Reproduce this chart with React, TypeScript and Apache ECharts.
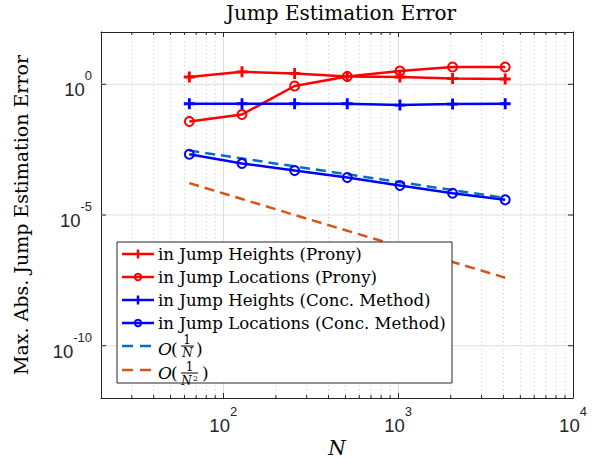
import React, { useEffect, useRef } from "react";
import * as echarts from "echarts";

const nValues = [64, 128, 256, 512, 1024, 2048, 4096];
const pronyHeights = [1.9, 3.0, 2.6, 2.0, 1.9, 1.65, 1.6];
const pronyLocations = [0.038, 0.07, 0.86, 2.0, 3.2, 4.6, 4.6];
const concHeights = [0.18, 0.18, 0.18, 0.18, 0.16, 0.175, 0.18];
const concLocations = [2.1e-3, 9.4e-4, 5.0e-4, 2.7e-4, 1.35e-4, 6.8e-5, 3.8e-5];
const orderN = [2.9e-3, 1.45e-3, 7.25e-4, 3.6e-4, 1.8e-4, 9.0e-5, 4.5e-5];
const orderN2 = [1.66e-4, 4.1e-5, 1.0e-5, 2.5e-6, 6.3e-7, 1.6e-7, 4.0e-8];
const minorXTicks = [30, 40, 50, 60, 70, 80, 90, 200, 300, 400, 500, 600, 700, 800, 900, 2000, 3000, 4000, 5000, 6000, 7000, 8000, 9000];
const majorYTicks = [1e-10, 1e-5, 1];
const xRange = [20, 10000];
const yRange = [1e-12, 1e2];

const seriesNames = [
  "in Jump Heights (Prony)",
  "in Jump Locations (Prony)",
  "in Jump Heights (Conc. Method)",
  "in Jump Locations (Conc. Method)",
];
const titleText = "Jump Estimation Error";
const yName = "Max. Abs. Jump Estimation Error";
const xName = "N";

const SERIF = "'DejaVu Serif', serif";
const SANS = "'Liberation Sans', Arial, sans-serif";
const AX = "#262626";
const GRID = "#dedede";
const RED = "#ff0000";
const BLUE = "#0000ff";
const C1 = "#0072bd";
const C2 = "#d95319";
const PLUS = "path://M3.7,0H6.3V3.7H10V6.3H6.3V10H3.7V6.3H0V3.7H3.7Z";
const TOPZ = 100;

function isMajorY(e: number) {
  return majorYTicks.some((t) => Math.abs(Math.log10(t) - e) < 1e-6);
}

function pow10LabelX(v: number) {
  const e = Math.log10(v);
  const r = Math.round(e);
  if (Math.abs(e - r) > 1e-6) return "";
  return `{b|10}{s|${r}}`;
}

function pow10LabelY(v: number) {
  const e = Math.log10(v);
  const r = Math.round(e);
  if (Math.abs(e - r) > 1e-6 || !isMajorY(r)) return "";
  return `{b|10}{s|${r}}`;
}

const richLabel = {
  b: { fontFamily: SANS, fontSize: 18.5, color: AX, lineHeight: 30, verticalAlign: "bottom" },
  s: { fontFamily: SANS, fontSize: 13, color: AX, lineHeight: 13, verticalAlign: "top" },
};

function mkLine(name: string, vals: number[], color: string, kind: "plus" | "circle") {
  return {
    name,
    type: "line",
    data: nValues.map((n, i) => [n, vals[i]]),
    symbol: kind === "plus" ? PLUS : "circle",
    symbolSize: kind === "plus" ? 11 : 9,
    symbolKeepAspect: true,
    showAllSymbol: true,
    lineStyle: { color, width: 2.5 },
    itemStyle:
      kind === "plus"
        ? { color }
        : { color: "rgba(0,0,0,0)", borderColor: color, borderWidth: 2 },
    emphasis: { disabled: true },
    z: 3,
  };
}

function mkDash(name: string, vals: number[], color: string) {
  return {
    name,
    type: "line",
    data: nValues.map((n, i) => [n, vals[i]]),
    symbol: "none",
    lineStyle: { color, width: 2.5, type: [10, 6] },
    emphasis: { disabled: true },
    z: 3,
  };
}

function buildLegend() {
  const left = 117;
  const top = 242;
  const w = 335;
  const h = 141;
  const rows = [254, 277, 300, 323, 346, 370];
  const x1 = 122;
  const x2 = 154;
  const mx = 138;
  const tx = 158;
  const font = `16.6px ${SERIF}`;
  const els: any[] = [
    {
      type: "rect",
      shape: { x: left, y: top, width: w, height: h },
      style: { fill: "#fff", stroke: AX, lineWidth: 1 },
    },
  ];
  const kinds: Array<[string, string]> = [
    [RED, "plus"],
    [RED, "circle"],
    [BLUE, "plus"],
    [BLUE, "circle"],
  ];
  kinds.forEach(([c, k], i) => {
    const ry = rows[i];
    els.push({ type: "line", shape: { x1, y1: ry, x2, y2: ry }, style: { stroke: c, lineWidth: 2.5 } });
    if (k === "plus") {
      els.push({ type: "line", shape: { x1: mx, y1: ry - 4.5, x2: mx, y2: ry + 4.5 }, style: { stroke: c, lineWidth: 2.5 } });
    } else {
      els.push({ type: "circle", shape: { cx: mx, cy: ry, r: 3.2 }, style: { fill: "none", stroke: c, lineWidth: 2 } });
    }
    els.push({
      type: "text",
      x: tx,
      y: ry,
      style: { text: seriesNames[i], font, fill: "#000", textAlign: "left", textVerticalAlign: "middle", align: "left", verticalAlign: "middle" },
    });
  });
  const dashes: string[] = [C1, C2];
  dashes.forEach((c, j) => {
    const ry = rows[4 + j];
    els.push({ type: "line", shape: { x1, y1: ry, x2, y2: ry }, style: { stroke: c, lineWidth: 2.5, lineDash: [11, 7] } });
  });
  const mid = (t: string, x: number, y: number, f: string, align = "left") => ({
    type: "text",
    x,
    y,
    style: { text: t, font: f, fill: "#000", textAlign: align, textVerticalAlign: "middle", align, verticalAlign: "middle" },
  });
  {
    const ry = rows[4];
    els.push(mid("O", tx, ry + 3, `italic 17px ${SERIF}`));
    els.push(mid("(", 171, ry + 3, `17px ${SERIF}`));
    els.push(mid("1", 187, ry - 6.5, `12px ${SERIF}`, "center"));
    els.push({ type: "line", shape: { x1: 181, y1: ry, x2: 194, y2: ry }, style: { stroke: "#000", lineWidth: 1 } });
    els.push(mid("N", 187.5, ry + 6.5, `italic 12px ${SERIF}`, "center"));
    els.push(mid(")", 196, ry + 3, `17px ${SERIF}`));
  }
  {
    const ry = rows[5];
    els.push(mid("O", tx, ry + 3, `italic 17px ${SERIF}`));
    els.push(mid("(", 171, ry + 3, `17px ${SERIF}`));
    els.push(mid("1", 189.5, ry - 3.5, `12px ${SERIF}`, "center"));
    els.push({ type: "line", shape: { x1: 181, y1: ry + 3, x2: 198, y2: ry + 3 }, style: { stroke: "#000", lineWidth: 1 } });
    els.push(mid("N", 186.5, ry + 10.5, `italic 12px ${SERIF}`, "center"));
    els.push(mid("2", 195.5, ry + 8, `8px ${SERIF}`, "center"));
    els.push(mid(")", 202, ry + 3, `17px ${SERIF}`));
  }
  return els.map((e, i) => ({ ...e, z: TOPZ + i }));
}

function buildTitle() {
  return {
    type: "text",
    x: 341,
    y: 13,
    z: TOPZ,
    style: { text: titleText, font: `20px ${SERIF}`, fill: "#000", textAlign: "center", textVerticalAlign: "middle", align: "center", verticalAlign: "middle" },
  };
}

export default function App() {
  const ref = useRef<HTMLDivElement>(null);
  useEffect(() => {
    if (!ref.current) return;
    const chart = echarts.init(ref.current, undefined, { renderer: "svg" });
    const axisLine = { show: true, lineStyle: { color: AX, width: 1 } };
    const option: any = {
      animation: false,
      backgroundColor: "#fff",
      grid: { left: 101, right: 27, top: 32, bottom: 66, containLabel: false, outerBoundsMode: "none" },
      xAxis: [
        {
          type: "log",
          logBase: 10,
          position: "bottom",
          min: xRange[0],
          max: xRange[1],
          axisLine,
          axisTick: { show: true, inside: true, length: 5, lineStyle: { color: AX, width: 1 } },
          splitLine: { show: true, lineStyle: { color: GRID, width: 1 } },
          axisLabel: { formatter: pow10LabelX, rich: richLabel, margin: 7, showMinLabel: true, showMaxLabel: true },
          name: xName,
          nameLocation: "middle",
          nameGap: 40,
          nameMoveOverlap: false,
          nameTextStyle: { fontFamily: SERIF, fontStyle: "italic", fontSize: 20, color: "#000" },
        },
        {
          type: "log",
          logBase: 10,
          position: "top",
          min: xRange[0],
          max: xRange[1],
          axisLine,
          axisTick: { show: true, inside: true, length: 5, lineStyle: { color: AX, width: 1 } },
          splitLine: { show: false },
          axisLabel: { show: false },
        },
      ],
      yAxis: [
        {
          type: "log",
          logBase: 10,
          position: "left",
          min: yRange[0],
          max: yRange[1],
          interval: 1,
          axisLine,
          axisTick: { show: false },
          splitLine: { show: false },
          axisLabel: { formatter: pow10LabelY, rich: richLabel, margin: 9, padding: [0, 0, 0, 0] },
          name: yName,
          nameLocation: "middle",
          nameGap: 71,
          nameMoveOverlap: false,
          nameTextStyle: { fontFamily: SERIF, fontSize: 19, color: "#000" },
        },
        {
          type: "log",
          logBase: 10,
          position: "right",
          min: yRange[0],
          max: yRange[1],
          interval: 1,
          axisLine,
          axisTick: { show: false },
          splitLine: { show: false },
          axisLabel: { show: false },
        },
      ],
      series: [
        {
          type: "custom",
          name: "minorGridX",
          xAxisIndex: 0,
          yAxisIndex: 0,
          silent: true,
          z: 1,
          data: minorXTicks.map((v) => [v, yRange[0]]),
          renderItem: (_p: any, api: any) => {
            const v = api.value(0);
            const b = api.coord([v, yRange[0]]);
            const t = api.coord([v, yRange[1]]);
            return {
              type: "group",
              children: [
                { type: "line", shape: { x1: b[0], y1: b[1], x2: t[0], y2: t[1] }, style: { stroke: "#c9c9c9", lineWidth: 1, lineDash: [1, 3] } },
                { type: "line", shape: { x1: b[0], y1: b[1], x2: b[0], y2: b[1] - 3 }, style: { stroke: AX, lineWidth: 1 } },
                { type: "line", shape: { x1: t[0], y1: t[1], x2: t[0], y2: t[1] + 3 }, style: { stroke: AX, lineWidth: 1 } },
              ],
            };
          },
        },
        {
          type: "custom",
          name: "majorGridY",
          xAxisIndex: 0,
          yAxisIndex: 0,
          silent: true,
          z: 1,
          data: majorYTicks.map((v) => [xRange[0], v]),
          renderItem: (_p: any, api: any) => {
            const v = api.value(1);
            const l = api.coord([xRange[0], v]);
            const r = api.coord([xRange[1], v]);
            return {
              type: "group",
              children: [
                { type: "line", shape: { x1: l[0], y1: l[1], x2: r[0], y2: r[1] }, style: { stroke: GRID, lineWidth: 1 } },
                { type: "line", shape: { x1: l[0], y1: l[1], x2: l[0] + 5, y2: l[1] }, style: { stroke: AX, lineWidth: 1 } },
                { type: "line", shape: { x1: r[0], y1: r[1], x2: r[0] - 5, y2: r[1] }, style: { stroke: AX, lineWidth: 1 } },
              ],
            };
          },
        },
        mkLine(seriesNames[0], pronyHeights, RED, "plus"),
        mkLine(seriesNames[1], pronyLocations, RED, "circle"),
        mkLine(seriesNames[2], concHeights, BLUE, "plus"),
        mkLine(seriesNames[3], concLocations, BLUE, "circle"),
        mkDash("O(1/N)", orderN, C1),
        mkDash("O(1/N^2)", orderN2, C2),
      ],
      graphic: [buildTitle(), ...buildLegend()],
    };
    chart.setOption(option);
    return () => chart.dispose();
  }, []);
  return (
    <div
      ref={ref}
      style={{ position: "fixed", left: 0, top: 0, width: 600, height: 464, background: "#fff" }}
    />
  );
}
